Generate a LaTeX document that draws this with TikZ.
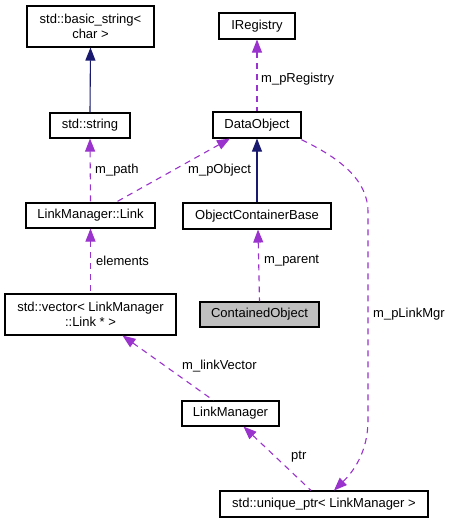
\documentclass[tikz,border=0pt]{standalone}
\usepackage{fontspec}
\setmainfont{Liberation Sans}
\usetikzlibrary{arrows.meta}
\definecolor{use}{HTML}{9A32CD}
\definecolor{inh}{HTML}{191970}
\tikzset{
  cls/.style={draw=black, line width=1.1pt, fill=white, inner sep=0pt, align=center,
    font=\fontsize{13}{15}\selectfont},
  lbl/.style={inner sep=0pt, anchor=west, font=\fontsize{13}{15}\selectfont},
  usearr/.style={draw=use, line width=1.1pt, dash pattern=on 6pt off 5pt,
    {Triangle[length=13pt,width=10pt]}-},
  inharr/.style={draw=inh, line width=1.1pt, {Triangle[length=13pt,width=10pt]}-},
}
\begin{document}
\begin{tikzpicture}[x=1pt,y=-1pt]
\useasboundingbox (0,0) rectangle (449,523);
\node[cls, minimum width=127pt, minimum height=41pt] (bs) at (90.5,26.5) {std::basic\_string<\\char >};
\node[cls, minimum width=80pt, minimum height=25pt] (str) at (90,125.5) {std::string};
\node[cls, minimum width=76pt, minimum height=26pt] (ireg) at (257,26) {IRegistry};
\node[cls, minimum width=88pt, minimum height=26pt] (dobj) at (257,125) {DataObject};
\node[cls, minimum width=129pt, minimum height=25pt] (link) at (90.5,215.5) {LinkManager::Link};
\node[cls, minimum width=148pt, minimum height=26pt] (ocb) at (257,216) {ObjectContainerBase};
\node[cls, minimum width=171pt, minimum height=41pt] (vec) at (90.5,314.5) {std::vector< LinkManager\\::Link * >};
\node[cls, fill={rgb,255:red,191;green,191;blue,191}, minimum width=119pt, minimum height=25pt] (cobj) at (259.5,314.5) {ContainedObject};
\node[cls, minimum width=97pt, minimum height=25pt] (lm) at (230.5,413.5) {LinkManager};
\node[cls, minimum width=208pt, minimum height=26pt] (up) at (324,504) {std::unique\_ptr< LinkManager >};

% inheritance
\draw[inharr] (bs.south) -- (str.north);
\draw[inharr] (dobj.south) -- (ocb.north);

% usage
\draw[usearr] (str.south) -- (link.north);
\draw[usearr] ([xshift=-27pt]dobj.south) -- ([xshift=25pt]link.north);
\draw[usearr] (ireg.south) -- (dobj.north);
\draw[usearr] (link.south) -- (vec.north);
\draw[usearr] ([xshift=1pt]ocb.south) -- (cobj.north);
\draw[usearr] ([xshift=32pt]vec.south) -- ([xshift=-17pt]lm.north);
\draw[usearr] ([xshift=13pt]lm.south) -- ([xshift=-13pt]up.north);
\coordinate (c1) at (300,139);
\draw[usearr] ([xshift=10pt]up.north) .. controls (355,470) and (368,450) .. (368,420)
  -- (368,212) .. controls (368,180) and (340,158) .. (c1);

% labels
\node[lbl] (l1) at (95,170) {m\_path};
\node[lbl] (l2) at (188,170) {m\_pObject};
\node[lbl] (l3) at (261,79) {m\_pRegistry};
\node[lbl] (l4) at (96,261) {elements};
\node[lbl] (l5) at (264,261) {m\_parent};
\node[lbl] (l6) at (182,366) {m\_linkVector};
\node[lbl] (l7) at (291,457) {ptr};
\node[lbl] (l8) at (373,314) {m\_pLinkMgr};
\end{tikzpicture}
\end{document}
